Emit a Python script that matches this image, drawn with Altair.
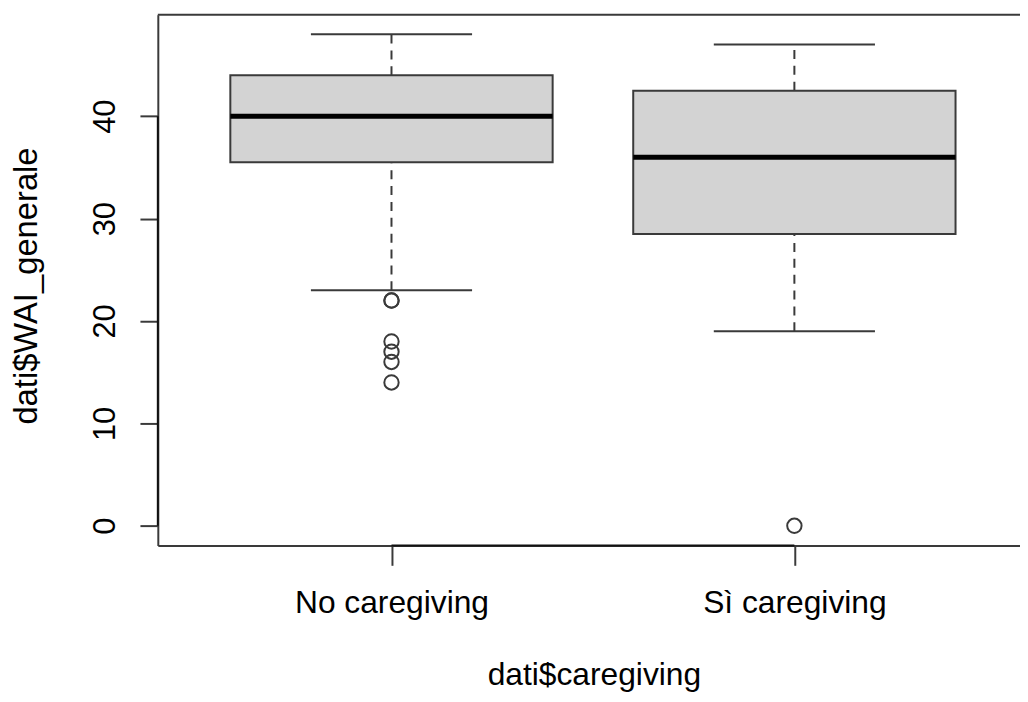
import altair as alt
import pandas as pd

# ---- data ----
categories = ["No caregiving", "Sì caregiving"]
positions = [1, 2]
whisker_low = [23, 19]
q1 = [35.5, 28.5]
median = [40, 36]
q3 = [44, 42.5]
whisker_high = [48, 47]

outlier_group = ["No caregiving", "No caregiving", "No caregiving",
                 "No caregiving", "No caregiving", "No caregiving", "Sì caregiving"]
outlier_values = [22, 22, 18, 17, 16, 14, 0]

y_ticks = [0, 10, 20, 30, 40]

box_df = pd.DataFrame({
    "group": categories,
    "pos": positions,
    "lo": whisker_low,
    "q1": q1,
    "med": median,
    "q3": q3,
    "hi": whisker_high,
})
pos_map = dict(zip(categories, positions))
out_df = pd.DataFrame({"group": outlier_group, "value": outlier_values})
out_df["pos"] = out_df["group"].map(pos_map)
axis_span_df = pd.DataFrame({
    "xa": [min(positions)], "xb": [max(positions)],
    "ya": [min(y_ticks)], "yb": [max(y_ticks)],
})

FONT = "Liberation Sans"
LINE = "#3a3a3a"
W, H = 869, 535

xscale = alt.Scale(domain=[0.42, 2.56], nice=False, zero=False)
yscale = alt.Scale(domain=[-1.92, 49.92], nice=False, zero=False)

label_expr = "[" + ",".join("'" + c + "'" for c in categories) + "][datum.value - 1]"

x_axis = alt.Axis(
    values=positions, labelExpr=label_expr, title="dati$caregiving",
    grid=False, tickSize=20, tickWidth=2, tickColor=LINE,
    domainColor=LINE, domainWidth=2,
    labelFont=FONT, labelFontSize=32, labelColor="black", labelAngle=0,
    labelBaseline="alphabetic", labelPadding=48, labelFlush=False, labelLimit=0,
    titleFont=FONT, titleFontSize=32, titleFontWeight="normal", titleColor="black",
    titleX=439.5, titleY=140, titleAlign="center", titleBaseline="alphabetic",
    titleLimit=0,
)
y_axis = alt.Axis(
    values=y_ticks, title="dati$WAI_generale",
    grid=False, tickSize=18, tickWidth=2, tickColor=LINE,
    domainColor=LINE, domainWidth=2,
    labelFont=FONT, labelFontSize=31, labelColor="black", labelAngle=270,
    labelAlign="center", labelBaseline="alphabetic", labelPadding=26, labelFlush=False,
    labelLimit=0,
    titleFont=FONT, titleFontSize=33, titleFontWeight="normal", titleColor="black",
    titleAngle=270, titleX=-122, titleY=273, titleAlign="center", titleBaseline="alphabetic",
    titleLimit=0,
)


def X(field):
    return alt.X(field, scale=xscale, axis=x_axis)


def Y(field):
    return alt.Y(field, scale=yscale, axis=y_axis)


base = alt.Chart(box_df).transform_calculate(
    xl="datum.pos - 0.4", xr="datum.pos + 0.4",
    cl="datum.pos - 0.2", cr="datum.pos + 0.2",
)

upper_whisker = base.mark_rule(color=LINE, strokeWidth=2, strokeDash=[9, 7]).encode(
    x=X("pos:Q"), y=Y("q3:Q"), y2="hi:Q",
)
lower_whisker = base.mark_rule(color=LINE, strokeWidth=2, strokeDash=[9, 7]).encode(
    x=X("pos:Q"), y=Y("lo:Q"), y2="q1:Q",
)
cap_hi = base.mark_rule(color=LINE, strokeWidth=2).encode(
    x=X("cl:Q"), x2="cr:Q", y=Y("hi:Q"),
)
cap_lo = base.mark_rule(color=LINE, strokeWidth=2).encode(
    x=X("cl:Q"), x2="cr:Q", y=Y("lo:Q"),
)
box = base.mark_bar(fill="#d3d3d3", stroke=LINE, strokeWidth=2).encode(
    x=X("xl:Q"), x2="xr:Q", y=Y("q1:Q"), y2="q3:Q",
)
med = base.mark_rule(color="black", strokeWidth=5).encode(
    x=X("xl:Q"), x2="xr:Q", y=Y("med:Q"),
)
outliers = alt.Chart(out_df).mark_point(
    shape="circle", filled=False, size=210, strokeWidth=2, color=LINE, opacity=1
).encode(
    x=X("pos:Q"), y=Y("value:Q"),
)
top_border = alt.Chart(pd.DataFrame({"k": [0]})).mark_rule(color=LINE, strokeWidth=2).encode(
    x=alt.value(0), x2=alt.value(W), y=alt.value(0),
)
# R draws its axis line between first and last tick on top of the frame
x_axis_line = alt.Chart(axis_span_df).mark_rule(color="#111", strokeWidth=2).encode(
    x=X("xa:Q"), x2="xb:Q", y=alt.value(H),
)
y_axis_line = alt.Chart(axis_span_df).mark_rule(color="#111", strokeWidth=2).encode(
    y=Y("ya:Q"), y2="yb:Q", x=alt.value(0),
)

chart = alt.layer(
    upper_whisker, lower_whisker, cap_hi, cap_lo, box, med, outliers,
    top_border, x_axis_line, y_axis_line
).properties(
    width=W, height=H,
    padding={"left": 151, "top": 4, "right": 0, "bottom": 147},
    autosize=alt.AutoSizeParams(type="none"),
    background="white",
).configure_view(stroke=None)

chart.save("out.html", embed_options={"renderer": "svg", "actions": False})
